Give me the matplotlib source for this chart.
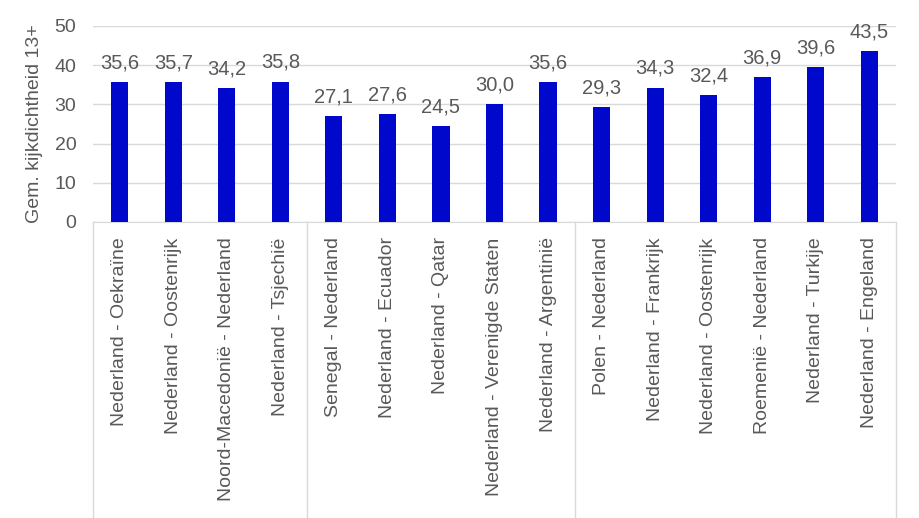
import matplotlib
matplotlib.use("Agg")
import numpy as np
import matplotlib.pyplot as plt
import matplotlib.transforms as mtransforms

# data
wedstrijden = [
    "Nederland - Oekraïne", "Nederland - Oostenrijk", "Noord-Macedonië - Nederland",
    "Nederland - Tsjechië",
    "Senegal - Nederland", "Nederland - Ecuador", "Nederland - Qatar",
    "Nederland - Verenigde Staten", "Nederland - Argentinië",
    "Polen - Nederland", "Nederland - Frankrijk", "Nederland - Oostenrijk",
    "Roemenië - Nederland", "Nederland - Turkije", "Nederland - Engeland",
]
kijkdichtheid = [35.6, 35.7, 34.2, 35.8, 27.1, 27.6, 24.5, 30.0, 35.6,
                 29.3, 34.3, 32.4, 36.9, 39.6, 43.5]
groep_grenzen = [4, 9]  # separators after these many bars
y_ticks = [0, 10, 20, 30, 40, 50]

TEXT = "#595959"
GRID = "#D9D9D9"
BLUE = "#0008CC"

plt.rcParams["font.family"] = ["Liberation Sans", "DejaVu Sans"]

fig = plt.figure(figsize=(9.2, 5.18), dpi=100)
ax = fig.add_axes([93 / 920, (518 - 222) / 518, (896 - 93) / 920, 196 / 518])

x = np.arange(len(wedstrijden))
bars = ax.bar(x, kijkdichtheid, width=0.32, color=BLUE, zorder=3)

for b, v in zip(bars, kijkdichtheid):
    ax.annotate(f"{v:.1f}".replace(".", ","), (b.get_x() + b.get_width() / 2, v),
                xytext=(0, 7), textcoords="offset points", ha="center", va="bottom",
                fontsize=14.5, color=TEXT)

ax.set_xlim(-0.5, len(wedstrijden) - 0.5)
ax.set_ylim(0, 50)
ax.set_yticks(y_ticks)
ax.yaxis.grid(True, color=GRID, linewidth=1, zorder=0)
ax.tick_params(axis="y", length=0, labelsize=14, labelcolor=TEXT, pad=12)
ax.tick_params(axis="x", length=0, pad=11)
ax.set_xticks(x)
ax.set_xticklabels(wedstrijden, rotation=90, fontsize=14, color=TEXT, va="top")
for s in ["top", "right", "left"]:
    ax.spines[s].set_visible(False)
ax.spines["bottom"].set_color(GRID)
ax.set_ylabel("Gem. kijkdichtheid 13+", fontsize=14, color=TEXT, labelpad=8)

# multi-level category separators going down to figure bottom
trans = mtransforms.blended_transform_factory(ax.transData, ax.transAxes)
y_bot = -(518 - 222) / 196
for xs in [-0.5] + [g - 0.5 for g in groep_grenzen] + [len(wedstrijden) - 0.5]:
    ax.plot([xs, xs], [0, y_bot], transform=trans, color=GRID, linewidth=1,
            clip_on=False)

fig.savefig("out.png", dpi=100)
